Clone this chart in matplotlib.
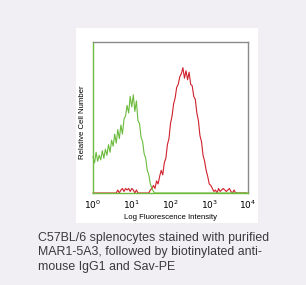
import numpy as np
import matplotlib.pyplot as plt
from matplotlib.patches import Rectangle

# histogram bins in decades (log10 of fluorescence), 0.04 decade apart
BIN_STEP = 0.04

# green: unstained / control, starts at 10^0
green_start = 0.0
green_counts = [
    24, 20, 27, 21, 25, 22, 28, 23, 29, 25,
    32, 27, 35, 31, 39, 33, 42, 36, 45, 39,
    49, 51, 58, 53, 64, 57, 65, 54, 61, 48,
    46, 37, 34, 26, 23, 15, 12, 6, 3, 1,
    0, 0,
]

# red: MAR1-5A3 stained, starts at 10^0
red_start = 0.0
red_counts = [
    0, 0, 0, 0, 0, 0, 0, 0, 0, 0,
    0, 0, 0, 0, 0, 0, 2, 0, 2, 3,
    1, 3, 2, 3, 1, 3, 2, 0, 2, 0,
    0, 0, 0, 0, 0, 0, 0, 2, 3, 5,
    3, 8, 6, 11, 15, 12, 20, 23, 32, 36,
    46, 51, 59, 63, 70, 72, 77, 79, 83, 76,
    81, 75, 80, 72, 71, 64, 62, 53, 48, 38,
    34, 25, 21, 15, 11, 6, 5, 3, 1, 2,
    0, 3, 1, 2, 3, 2, 1, 2, 3, 1,
    0, 2, 0, 0, 0, 0, 0, 0, 0, 0,
]

tick_pos = [1, 10, 100, 1000, 10000]
tick_labels = [r"$10^0$", r"$10^1$", r"$10^2$", r"$10^3$", r"$10^4$"]

caption_lines = [
    "C57BL/6 splenocytes stained with purified",
    "MAR1-5A3, followed by biotinylated anti-",
    "mouse IgG1 and Sav-PE",
]

GREEN = "#6cbb3c"
RED = "#d0202c"


def bin_x(start, counts):
    # bin positions on the log axis
    return 10 ** (start + BIN_STEP * np.arange(len(counts)))


W, H = 306, 285
fig = plt.figure(figsize=(W / 100, H / 100), dpi=100)
fig.patch.set_facecolor("#f1eff4")
plt.rcParams["font.family"] = ["Liberation Sans", "DejaVu Sans"]

# white panel behind the plot
fig.patches.append(Rectangle((76 / W, 1 - 223 / H), (258 - 76) / W, (223 - 28) / H,
                             transform=fig.transFigure, facecolor="white",
                             edgecolor="none", zorder=-5))

ax = fig.add_axes([93 / W, 1 - 193 / H, (248 - 93) / W, (193 - 42) / H])
ax.set_zorder(2)
ax.set_facecolor("white")

# pad green with zeros out to 10^4 so the baseline runs along the bottom
gx = bin_x(green_start, green_counts)
gx = np.append(gx, 10000)
gy = np.append(green_counts, 0)
rx = bin_x(red_start, red_counts)

ax.plot(rx, red_counts, color=RED, lw=0.8, clip_on=False, zorder=2)
ax.plot(gx, gy, color=GREEN, lw=0.8, clip_on=False, zorder=3)

ax.set_xscale("log")
ax.set_xlim(1, 10000)
ax.set_ylim(0, 100)
ax.set_xticks(tick_pos)
ax.set_xticklabels(tick_labels, fontsize=6.5)
ax.xaxis.set_minor_locator(plt.NullLocator())
ax.set_yticks([])
ax.tick_params(axis="x", length=0, pad=4)

for side in ["top", "right"]:
    ax.spines[side].set_color("#8a8a8a")
    ax.spines[side].set_linewidth(1.0)
ax.spines["left"].set_color(GREEN)
ax.spines["bottom"].set_color(GREEN)
ax.spines["left"].set_linewidth(1.0)
ax.spines["bottom"].set_linewidth(1.0)

ax.set_xlabel("Log Fluorescence Intensity", fontsize=5.6, labelpad=2)
ax.set_ylabel("Relative Cell Number", fontsize=5.6)
ax.yaxis.set_label_coords(-0.045, 0.47)

for i, line in enumerate(caption_lines):
    fig.text(38 / W, 1 - (238 + 14.5 * i) / H, line, fontsize=8.9, color="#3a3a3a",
             ha="left", va="center")

plt.savefig("out.png", dpi=100, facecolor=fig.get_facecolor())
